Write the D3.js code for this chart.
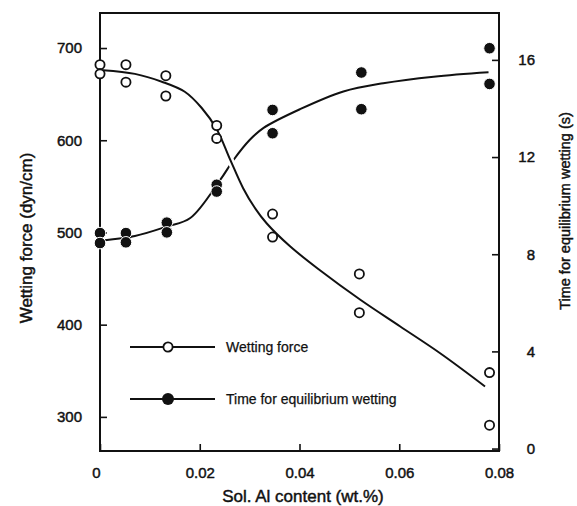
<!DOCTYPE html>
<html>
<head>
<meta charset="utf-8">
<script src="https://cdn.jsdelivr.net/npm/d3@7"></script>
<style>
  body { margin: 0; background: #fff; }
  svg { display: block; }
  text { font-family: "Liberation Sans", Arial, sans-serif; fill: #111; stroke: #111; stroke-width: 0.45px; }
</style>
</head>
<body>
<script>
const width = 577, height = 506;

// measured points: Sol. Al content (wt.%) vs wetting force (dyn/cm)
const forceX = [0, 0, 0.0052, 0.0052, 0.0132, 0.0132, 0.0234, 0.0234, 0.0346, 0.0346, 0.052, 0.052, 0.0781, 0.0781];
const forceY = [682, 672, 682, 663, 670, 648, 616, 602, 520, 495, 455, 413, 348, 291];

// measured points: time for equilibrium wetting (s)
const timeX = [0, 0, 0.0052, 0.0052, 0.0134, 0.0134, 0.0234, 0.0234, 0.0346, 0.0346, 0.0524, 0.0524, 0.0781, 0.0781];
const timeY = [8.87, 8.46, 8.87, 8.49, 9.30, 8.90, 10.86, 10.58, 13.94, 12.98, 15.48, 13.97, 16.48, 15.01];

// fitted curves
const forceFitX = [0.0006, 0.007, 0.0124, 0.017, 0.0204, 0.0234, 0.0261, 0.0287, 0.031, 0.0334, 0.0381, 0.0441, 0.0522, 0.0602, 0.0682, 0.0772];
const forceFitY = [676, 672, 663.5, 652.6, 635, 612, 579, 548, 527, 510, 485, 459, 427, 398, 369, 333];
const timeFitX = [0.0006, 0.007, 0.0134, 0.0181, 0.0241, 0.0268, 0.03, 0.0328, 0.0401, 0.0488, 0.0568, 0.0669, 0.0779];
const timeFitY = [8.57, 8.75, 9.14, 9.49, 11.06, 11.89, 12.7, 13.2, 13.97, 14.7, 15.04, 15.31, 15.49];

const xTicks = [0, 0.02, 0.04, 0.06, 0.08];
const forceTicks = [300, 400, 500, 600, 700];
const timeTicks = [0, 4, 8, 12, 16];
const legendLabels = ["Wetting force", "Time for equilibrium wetting"];

const plotLeft = 100, plotRight = 499, plotTop = 13, plotBottom = 451;

const x = d3.scaleLinear().domain([0, 0.08]).range([plotLeft, plotRight]);
const yF = d3.scaleLinear().domain([263, 738]).range([plotBottom, plotTop]);
const yT = d3.scaleLinear().domain([-0.1, 17.93]).range([plotBottom, plotTop]);

const svg = d3.select("body").append("svg")
    .attr("width", width)
    .attr("height", height);

// axes, ticks pointing into the plot
const fmtX = d => d === 0 ? "0" : d3.format(".2f")(d);

const gx = svg.append("g")
    .attr("transform", "translate(0," + plotBottom + ")")
    .call(d3.axisBottom(x).tickValues(xTicks).tickFormat(fmtX).tickSizeInner(-7).tickSizeOuter(0).tickPadding(16));

const gl = svg.append("g")
    .attr("transform", "translate(" + plotLeft + ",0)")
    .call(d3.axisLeft(yF).tickValues(forceTicks).tickSizeInner(-7).tickSizeOuter(0).tickPadding(18));

const gr = svg.append("g")
    .attr("transform", "translate(" + plotRight + ",0)")
    .call(d3.axisRight(yT).tickValues(timeTicks).tickSizeInner(-7).tickSizeOuter(0).tickPadding(36));

[gx, gl, gr].forEach(g => {
    g.select(".domain").remove();
    g.selectAll(".tick line").attr("stroke", "#111").attr("stroke-width", 1.6);
    g.selectAll(".tick text")
        .attr("font-size", 15)
        .attr("fill", "#111")
        .style("font-family", "'Liberation Sans', Arial, sans-serif");
});
gr.selectAll(".tick text").attr("text-anchor", "end");
gx.selectAll(".tick text").filter(d => d === 0).attr("dx", -4);

// frame
svg.append("rect")
    .attr("x", plotLeft).attr("y", plotTop)
    .attr("width", plotRight - plotLeft).attr("height", plotBottom - plotTop)
    .attr("fill", "none")
    .attr("stroke", "#111")
    .attr("stroke-width", 2);

// fitted curves; the force curve gets a white under-stroke so it cuts the time curve
const lineT = d3.line().x(d => x(d[0])).y(d => yT(d[1])).curve(d3.curveCatmullRom.alpha(0.5));
const lineF = d3.line().x(d => x(d[0])).y(d => yF(d[1])).curve(d3.curveCatmullRom.alpha(0.5));

svg.append("path")
    .datum(timeFitX.map((v, i) => [v, timeFitY[i]]))
    .attr("d", lineT)
    .attr("fill", "none")
    .attr("stroke", "#111")
    .attr("stroke-width", 2);

const forceFit = forceFitX.map((v, i) => [v, forceFitY[i]]);
svg.append("path")
    .datum(forceFit)
    .attr("d", lineF)
    .attr("fill", "none")
    .attr("stroke", "#fff")
    .attr("stroke-width", 7);
svg.append("path")
    .datum(forceFit)
    .attr("d", lineF)
    .attr("fill", "none")
    .attr("stroke", "#111")
    .attr("stroke-width", 2);

// data points
svg.append("g")
    .selectAll("circle")
    .data(timeX.map((v, i) => [v, timeY[i]]))
    .join("circle")
    .attr("cx", d => x(d[0]))
    .attr("cy", d => yT(d[1]))
    .attr("r", 5.8)
    .attr("fill", "#111")
    .attr("stroke", "#fff")
    .attr("stroke-width", 1);

svg.append("g")
    .selectAll("circle")
    .data(forceX.map((v, i) => [v, forceY[i]]))
    .join("circle")
    .attr("cx", d => x(d[0]))
    .attr("cy", d => yF(d[1]))
    .attr("r", 4.6)
    .attr("fill", "#fff")
    .attr("stroke", "#111")
    .attr("stroke-width", 1.8);

// legend
const legend = svg.append("g");
const legendY = [347, 399];
legendLabels.forEach((label, i) => {
    const g = legend.append("g").attr("transform", "translate(0," + legendY[i] + ")");
    g.append("line")
        .attr("x1", 130).attr("x2", 215)
        .attr("stroke", "#111").attr("stroke-width", 1.8);
    if (i === 0) {
        g.append("circle").attr("cx", 168).attr("r", 4.6)
            .attr("fill", "#fff").attr("stroke", "#111").attr("stroke-width", 1.8);
    } else {
        g.append("circle").attr("cx", 168).attr("r", 6).attr("fill", "#111");
    }
    g.append("text")
        .attr("x", 226).attr("y", 5)
        .attr("font-size", 14)
        .style("stroke-width", "0.25px")
        .text(label);
});

// axis titles
svg.append("text")
    .attr("x", 303).attr("y", 502)
    .attr("text-anchor", "middle")
    .attr("font-size", 17)
    .text("Sol. Al content (wt.%)");

svg.append("text")
    .attr("transform", "translate(32,238) rotate(-90)")
    .attr("text-anchor", "middle")
    .attr("font-size", 17)
    .text("Wetting force (dyn/cm)");

svg.append("text")
    .attr("transform", "translate(570,211) rotate(-90)")
    .attr("text-anchor", "middle")
    .attr("font-size", 14.5)
    .text("Time for equilibrium wetting (s)");
</script>
</body>
</html>
